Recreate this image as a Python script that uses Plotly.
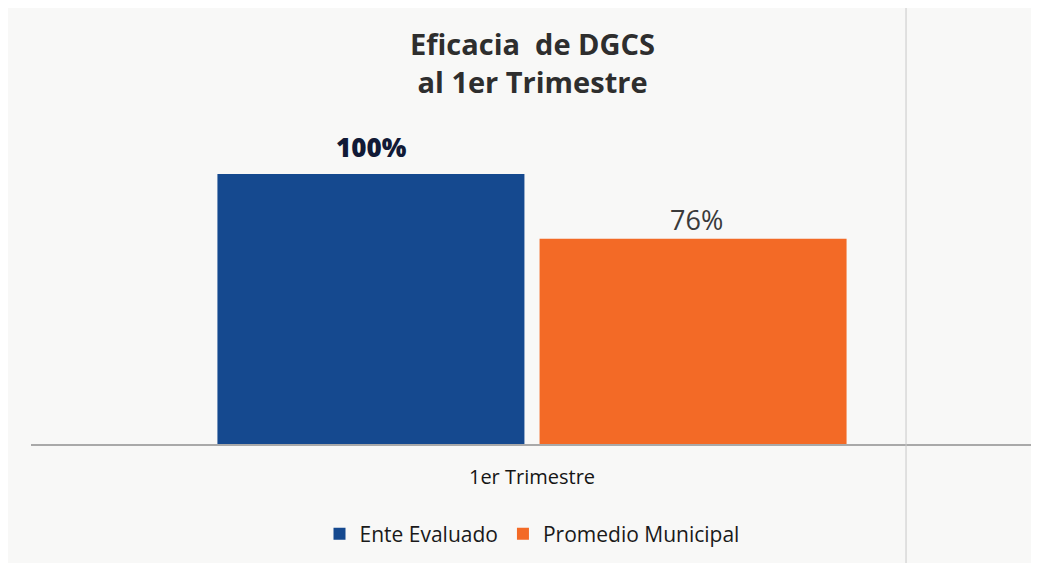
import plotly.graph_objects as go

categories = ["1er Trimestre"]
series_names = ["Ente Evaluado", "Promedio Municipal"]
ente_values = [1.00]
promedio_values = [0.76]
title_lines = ["Eficacia  de DGCS", "al 1er Trimestre"]

blue = "#15498f"
orange = "#f36a26"
bg = "#f8f8f7"

fig = go.Figure()
fig.add_trace(go.Bar(name=series_names[0], x=categories, y=ente_values,
                     marker_color=blue, marker_line_width=0))
fig.add_trace(go.Bar(name=series_names[1], x=categories, y=promedio_values,
                     marker_color=orange, marker_line_width=0))

# data labels
fig.add_annotation(x=categories[0], y=ente_values[0], text=f"{ente_values[0]:.0%}",
                   xshift=-161, yshift=27, yanchor="middle", showarrow=False,
                   font=dict(family="Open Sans", size=26, color="#111a36", weight=800))
fig.add_annotation(x=categories[0], y=promedio_values[0], text=f"{promedio_values[0]:.0%}",
                   xshift=164, yshift=19, yanchor="middle", showarrow=False,
                   font=dict(family="Open Sans", size=27, color="#3a3a3a"))

# title
fig.add_annotation(xref="paper", yref="paper", x=0.5, y=1.1775, yanchor="middle",
                   text="<b>" + "<br>".join(title_lines) + "</b>", showarrow=False,
                   font=dict(family="Open Sans", size=29, color="#2e2e2e"))

fig.update_layout(
    width=1031, height=555,
    margin=dict(l=23, r=6, t=112, b=119, autoexpand=False),
    paper_bgcolor=bg, plot_bgcolor=bg,
    barmode="group", bargap=0.357, bargroupgap=0.047,
    showlegend=True,
    legend=dict(orientation="h", x=0.5, xanchor="center", y=-0.215, yanchor="top",
                font=dict(family="Open Sans", size=21, color="#1a1a1a"),
                itemwidth=30, bgcolor="rgba(0,0,0,0)"),
    font=dict(family="Open Sans"),
)
fig.update_xaxes(showline=True, linecolor="#a9a9a9", linewidth=2, ticks="",
                 tickfont=dict(family="Open Sans", size=20, color="#151515"),
                 ticklabelstandoff=14)
fig.update_yaxes(range=[0, 1.2], visible=False, showgrid=False)

# faint page border from the scan
border = dict(color="#c8c8c8", width=1)
fig.add_shape(type="line", xref="paper", yref="paper", x0=0.8733, x1=0.8733,
              y0=-0.37, y1=1.37, line=border)

fig.write_html("out.html")
